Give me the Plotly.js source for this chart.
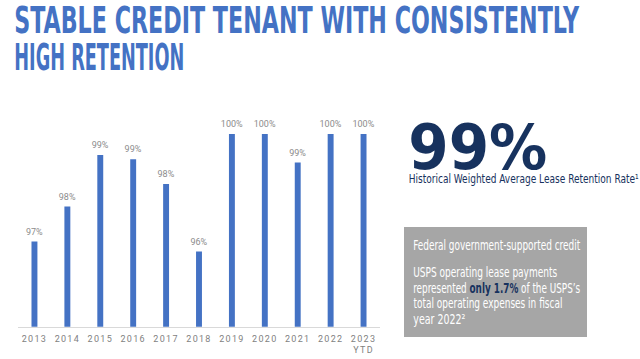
<!DOCTYPE html>
<html>
<head>
<meta charset="utf-8">
<script src="https://cdn.plot.ly/plotly-3.0.1.min.js"></script>
<style>
html,body{margin:0;padding:0;background:#fff;}
#chart{width:640px;height:359px;}
.xtick text{letter-spacing:1.3px;}
</style>
</head>
<body>
<div id="chart"></div>
<script>
const years = ['2013','2014','2015','2016','2017','2018','2019','2020','2021','2022','2023<br>YTD'];
const retention = [96.65, 97.74, 99.35, 99.21, 98.44, 96.34, 100, 100, 99.11, 100, 100];
const retentionLabels = ['97%','98%','99%','99%','98%','96%','100%','100%','99%','100%','100%'];
const titleLines = ['STABLE CREDIT TENANT WITH CONSISTENTLY', 'HIGH RETENTION'];
const headlineValue = '99%';
const headlineCaption = 'Historical Weighted Average Lease Retention Rate¹';
const boxLines = [
  'Federal government-supported credit',
  'USPS operating lease payments',
  'represented <b><span style="color:#17325e">only 1.7%</span></b> of the USPS\u2019s',
  'total operating expenses in fiscal',
  'year 2022²'
];

const W = 640, H = 359;
const px = x => x / W;
const py = y => 1 - y / H;

const blue = '#4472C4';
const navy = '#17325e';

// text specs: [text, centerX, centerY, size, color, family, textLength, bold]
const cond = '"DejaVu Sans Condensed", "Liberation Sans Narrow", "DejaVu Sans", sans-serif';
const specs = [
  [titleLines[0], 297.5, 20, 38, blue, cond, 565, true],
  [titleLines[1], 99, 57, 38, blue, cond, 170, true],
  [headlineValue, 477.5, 147, 62, navy, cond, 139, true],
  [headlineCaption, 523, 179, 12, navy, cond, 230, false],
  [boxLines[0], 496.5, 245, 13.5, '#ffffff', cond, 167, false],
  [boxLines[1], 485, 271.5, 13.5, '#ffffff', cond, 144, false],
  [boxLines[2], 496.5, 287.5, 13.5, '#ffffff', cond, 167, false],
  [boxLines[3], 487.5, 303, 13.5, '#ffffff', cond, 149, false],
  [boxLines[4], 439, 318.5, 13.5, '#ffffff', cond, 52, false]
];

const annotations = specs.map(s => ({
  xref: 'paper', yref: 'paper', x: px(s[1]), y: py(s[2]),
  xanchor: 'center', yanchor: 'middle', showarrow: false,
  text: s[7] ? '<b>' + s[0] + '</b>' : s[0],
  font: {size: s[3], color: s[4], family: s[5]}
}));

const trace = {
  type: 'bar',
  x: years,
  y: retention,
  text: retentionLabels,
  textposition: 'outside',
  texttemplate: '%{text}',
  constraintext: 'none',
  textfont: {size: 9, color: '#8c8c8c', family: 'Roboto, sans-serif'},
  cliponaxis: false,
  marker: {color: blue},
  width: 0.18,
  hoverinfo: 'skip'
};

const layout = {
  width: W, height: H,
  margin: {l: 0, r: 0, t: 0, b: 0},
  paper_bgcolor: '#ffffff',
  plot_bgcolor: 'rgba(0,0,0,0)',
  showlegend: false,
  xaxis: {
    domain: [px(18), px(380)],
    type: 'category',
    range: [-0.5, 10.5],
    showline: true, linecolor: '#d9d9d9', linewidth: 1,
    ticks: '', showgrid: false, zeroline: false,
    ticklabelstandoff: 3,
    tickfont: {size: 9, color: '#7f7f7f', family: 'Roboto, sans-serif'},
    fixedrange: true
  },
  yaxis: {
    domain: [py(326.7), py(134)],
    range: [94, 100],
    visible: false, showgrid: false, zeroline: false, fixedrange: true
  },
  shapes: [{
    type: 'rect', xref: 'paper', yref: 'paper',
    x0: px(404), x1: px(587), y0: py(337), y1: py(227),
    fillcolor: '#a6a6a6', line: {width: 0}, layer: 'below'
  }],
  annotations: annotations
};

Plotly.newPlot('chart', [trace], layout, {displayModeBar: false, staticPlot: true}).then(() => {
  specs.forEach((s, i) => {
    const t = document.querySelector('.annotation[data-index="' + i + '"] text.annotation-text');
    if (t) {
      t.setAttribute('textLength', s[6]);
      t.setAttribute('lengthAdjust', 'spacingAndGlyphs');
    }
  });
  document.querySelectorAll('.bars .point text').forEach(t => {
    const tr = t.getAttribute('transform') || '';
    t.setAttribute('transform', 'translate(0,-5) ' + tr);
  });
});
</script>
</body>
</html>
